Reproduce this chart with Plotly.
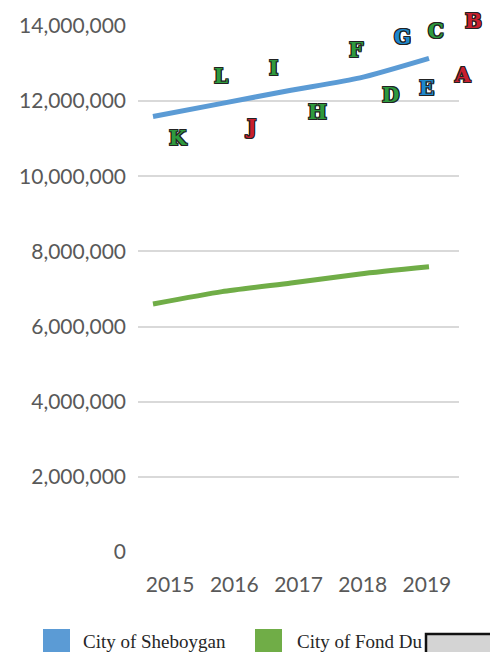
import plotly.graph_objects as go

years = [2015, 2016, 2017, 2018, 2019]
year_labels = ["2015", "2016", "2017", "2018", "2019"]
sheboygan = [11590000, 11940000, 12290000, 12620000, 13140000]
fond_du = [6600000, 6930000, 7160000, 7400000, 7590000]
series_names = ["City of Sheboygan", "City of Fond Du"]
series_colors = ["#5b9bd5", "#70ad47"]

y_ticks = [0, 2000000, 4000000, 6000000, 8000000, 10000000, 12000000, 14000000]

# decorative letters: (letter, color, x in year units, y in value units)
letters = ["B", "C", "G", "F", "I", "L", "A", "E", "D", "H", "J", "K"]
letter_colors = ["#c8202e", "#2e9a3e", "#1e88cc", "#2e9a3e", "#2e9a3e", "#2e9a3e",
                 "#c8202e", "#1e88cc", "#2e9a3e", "#2e9a3e", "#c8202e", "#2e9a3e"]
letter_x = [2019.64, 2019.10, 2018.61, 2017.94, 2016.74, 2015.99,
            2019.49, 2018.96, 2018.44, 2017.38, 2016.42, 2015.36]
letter_y = [14130000, 13870000, 13710000, 13360000, 12880000, 12670000,
            12700000, 12350000, 12160000, 11710000, 11310000, 11020000]

W, H = 490, 652
ML, MR, MT, MB = 138, 31, 26, 100
PW = W - ML - MR
PH = H - MT - MB
X_RANGE = [2015 - 15 / 69, 2019 + 30 / 69]
Y_RANGE = [0, 14000000]


def px(x):
    return (x - ML) / PW


def py(y):
    return (H - MB - y) / PH


def year_to_paper(v):
    return (v - X_RANGE[0]) / (X_RANGE[1] - X_RANGE[0])


def val_to_paper(v):
    return (v - Y_RANGE[0]) / (Y_RANGE[1] - Y_RANGE[0])


fig = go.Figure()
for name, vals, col in zip(series_names, [sheboygan, fond_du], series_colors):
    fig.add_trace(go.Scatter(x=years, y=vals, name=name, mode="lines",
                             line=dict(color=col, width=5, shape="spline", smoothing=0.6),
                             showlegend=False, xaxis="x", yaxis="y"))

# invisible trace on category axis for tick labels
fig.add_trace(go.Scatter(x=year_labels, y=[None] * 5, xaxis="x2", yaxis="y",
                         showlegend=False, hoverinfo="skip"))

tickfont = dict(family="Lato", size=21, color="#595959")
fig.update_layout(
    width=W, height=H,
    margin=dict(l=ML, r=MR, t=MT, b=MB),
    paper_bgcolor="white", plot_bgcolor="white",
    showlegend=False,
    xaxis=dict(range=X_RANGE, showticklabels=False,
               showgrid=False, zeroline=False, ticks=""),
    xaxis2=dict(type="category", overlaying="x", side="bottom", range=[-0.5, 4.5],
                showgrid=False, zeroline=False, ticks="", tickfont=tickfont,
                ticklabelstandoff=18),
    yaxis=dict(range=Y_RANGE, tickvals=y_ticks, tickformat=",d",
               showgrid=True, gridcolor="#d9d9d9", gridwidth=2, zeroline=False,
               tickfont=tickfont, ticks="", ticklabelstandoff=11),
)

outline = ("1px 0 0 #222, -1px 0 0 #222, 0 1px 0 #222, 0 -1px 0 #222, "
           "1px 1px 0 #222, -1px -1px 0 #222, 1px -1px 0 #222, -1px 1px 0 #222")
for t, c, x, y in zip(letters, letter_colors, letter_x, letter_y):
    fig.add_annotation(x=year_to_paper(x), y=val_to_paper(y), xref="paper", yref="paper",
                       text="<b>" + t + "</b>",
                       showarrow=False, xanchor="center", yanchor="middle",
                       font=dict(family="DejaVu Serif", size=20, color=c, shadow=outline))

# manual legend
leg_sq = [(43, 70), (255, 282)]
leg_tx = [81, 295]
for (x0, x1), tx, name, col in zip(leg_sq, leg_tx, series_names, series_colors):
    fig.add_shape(type="rect", xref="paper", yref="paper",
                  x0=px(x0), x1=px(x1), y0=py(629), y1=py(660),
                  fillcolor=col, line=dict(width=0))
    fig.add_annotation(x=px(tx), y=py(641), xref="paper", yref="paper", text=name,
                       showarrow=False, xanchor="left", yanchor="middle",
                       font=dict(family="Liberation Serif", size=19, color="#262626"))

fig.add_shape(type="rect", xref="paper", yref="paper",
              x0=px(426), x1=px(500), y0=py(634), y1=py(665),
              fillcolor="#d4d4d4", line=dict(color="#111", width=2.5))

fig.write_html("out.html")
